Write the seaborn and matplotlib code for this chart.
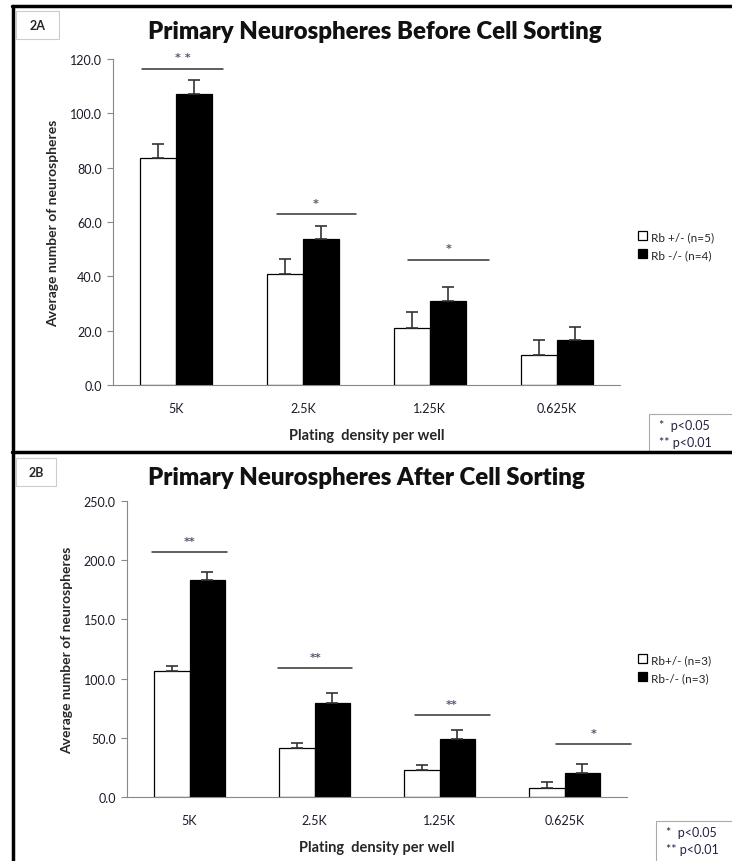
import matplotlib
matplotlib.use('Agg')
import matplotlib.pyplot as plt
import seaborn as sns
import pandas as pd
from matplotlib.lines import Line2D
from matplotlib.patches import Rectangle

# dados
density = ['5K', '2.5K', '1.25K', '0.625K']

a_het_mean = [83.5, 40.9, 21.1, 11.1]
a_het_err = [5.3, 5.5, 5.7, 5.4]
a_ko_mean = [107.2, 53.7, 31.1, 16.6]
a_ko_err = [5.1, 4.8, 4.9, 4.9]
a_groups = ['Rb +/- (n=5)', 'Rb -/- (n=4)']
a_sig = ['* *', '*', '*', '']
a_sig_y = [116.4, 62.8, 46.1, 0]
a_sig_x0 = [-0.27, -0.21, -0.17, 0]
a_sig_x1 = [0.37, 0.415, 0.47, 0]

b_het_mean = [106.7, 41.7, 22.8, 7.9]
b_het_err = [4.2, 4.2, 4.2, 4.5]
b_ko_mean = [183.3, 79.4, 49.0, 20.6]
b_ko_err = [7.0, 8.4, 7.6, 7.3]
b_groups = ['Rb+/- (n=3)', 'Rb-/- (n=3)']
b_sig = ['**', '**', '**', '*']
b_sig_y = [206.9, 109.2, 69.0, 45.0]
b_sig_x0 = [-0.30, -0.29, -0.20, -0.07]
b_sig_x1 = [0.30, 0.30, 0.40, 0.53]

sns.set_style('white')
plt.rcParams['font.family'] = ['Lato', 'DejaVu Sans']

fig = plt.figure(figsize=(7.32, 8.62), dpi=100)
W, H = 732, 862


def fx(px):
    return px / W


def fy(py):
    return 1 - py / H


def panel(rect, het_m, het_e, ko_m, ko_e, groups, sig, sig_y, sx0, sx1,
          ymax, ystep, title, tag, tag_box, title_y, leg_y, pbox):
    ax = fig.add_axes(rect)
    df = pd.DataFrame({
        'Densidade': density * 2,
        'Media': het_m + ko_m,
        'Erro': het_e + ko_e,
        'Grupo': [groups[0]] * 4 + [groups[1]] * 4,
    })
    sns.barplot(data=df, x='Densidade', y='Media', hue='Grupo', order=density,
                hue_order=groups, palette=['white', 'black'], edgecolor='black',
                linewidth=0.9, width=0.57, errorbar=None, legend=False, ax=ax)

    # barras de erro só para cima
    bars = [p for p in ax.patches if isinstance(p, Rectangle)][:8]
    for p, e in zip(bars, het_e + ko_e):
        xc = p.get_x() + p.get_width() / 2
        ax.errorbar(xc, p.get_height(), yerr=[[0], [e]], fmt='none',
                    ecolor='#333333', elinewidth=1.2, capsize=4.5, capthick=1.2)

    # linhas de significância
    for i, s in enumerate(sig):
        if not s:
            continue
        ax.plot([i + sx0[i], i + sx1[i]], [sig_y[i], sig_y[i]], color='#333333', lw=1.1,
                clip_on=False)
        ax.text(i + (sx0[i] + sx1[i]) / 2, sig_y[i] + ymax * 0.02, s, ha='center',
                va='bottom', fontsize=8, family='DejaVu Sans', fontweight='bold',
                color='#55556e', clip_on=False)

    ax.set_xlim(-0.5, 3.5)
    ax.set_ylim(0, ymax)
    ax.set_yticks([v * ystep for v in range(int(ymax / ystep) + 1)])
    ax.set_yticklabels(['%.1f' % (v * ystep) for v in range(int(ymax / ystep) + 1)],
                       fontsize=9, color='#1a1a2a')
    ax.set_xticks(range(4))
    ax.set_xticklabels(density, fontsize=9, color='#1a1a2a')
    ax.set_xticks([-0.5, 0.5, 1.5, 2.5, 3.5], minor=True)
    ax.tick_params(axis='x', which='major', length=0, pad=12)
    ax.tick_params(axis='x', which='minor', length=4, color='#888888', width=0.8)
    ax.tick_params(axis='y', length=4, color='#888888', width=0.8, left=True, pad=4)
    for side in ['top', 'right']:
        ax.spines[side].set_visible(False)
    for side in ['left', 'bottom']:
        ax.spines[side].set_color('#888888')
        ax.spines[side].set_linewidth(0.8)
    ax.set_xlabel('Plating  density per well', fontsize=10.5, fontweight='bold',
                  labelpad=10)
    ax.set_ylabel('Average number of neurospheres', fontsize=10, fontweight='bold',
                  labelpad=8)

    fig.text(fx(148), title_y, title, ha='left', va='center',
             fontsize=17.3, fontweight='heavy', color='#111111')

    # caixa com rótulo do painel
    fig.add_artist(Rectangle((fx(tag_box[0]), fy(tag_box[3])),
                             fx(tag_box[2] - tag_box[0]), (tag_box[3] - tag_box[1]) / H,
                             transform=fig.transFigure, facecolor='white',
                             edgecolor='#cccccc', lw=0.8))
    fig.text(fx((tag_box[0] + tag_box[2]) / 2), fy((tag_box[1] + tag_box[3]) / 2), tag,
             ha='center', va='center', fontsize=9, fontweight='bold')

    # legenda
    handles = [Rectangle((0, 0), 1, 1, facecolor=c, edgecolor='black', lw=0.9)
               for c in ['white', 'black']]
    fig.legend(handles, groups, loc='upper left', bbox_to_anchor=(fx(638), fy(leg_y)),
               frameon=False, fontsize=8.5, handlelength=0.8, handleheight=0.8,
               handletextpad=0.3, labelspacing=0.6, borderaxespad=0, borderpad=0)

    # caixa de valores p
    fig.add_artist(Rectangle((fx(pbox[0]), fy(pbox[3])), fx(W - pbox[0] + 5),
                             (pbox[3] - pbox[1]) / H, transform=fig.transFigure,
                             facecolor='white', edgecolor='#aaaaaa', lw=0.8))
    fig.text(fx(pbox[0] + 10), fy(pbox[1] + 11), '*  p<0.05', fontsize=9,
             va='center', color='#222244')
    fig.text(fx(pbox[0] + 10), fy(pbox[1] + 28), '** p<0.01', fontsize=9,
             va='center', color='#222244')
    return ax


panel([fx(113), fy(386), fx(620 - 113), (386 - 60) / H],
      a_het_mean, a_het_err, a_ko_mean, a_ko_err, a_groups, a_sig, a_sig_y,
      a_sig_x0, a_sig_x1, 120, 20, 'Primary Neurospheres Before Cell Sorting', '2A',
      (16, 12, 59, 40), fy(32), 232, (649, 415, W, 452))

panel([fx(127), fy(798), fx(627 - 127), (798 - 502) / H],
      b_het_mean, b_het_err, b_ko_mean, b_ko_err, b_groups, b_sig, b_sig_y,
      b_sig_x0, b_sig_x1, 250, 50, 'Primary Neurospheres After Cell Sorting', '2B',
      (16, 459, 56, 487), fy(478), 655, (656, 822, W, 870))

# moldura preta
for xs, ys in [([12, W], [7, 7]), ([13, 13], [7, H]), ([12, W], [453, 453])]:
    fig.add_artist(Line2D([fx(x) for x in xs], [fy(y) for y in ys],
                          transform=fig.transFigure, color='black', lw=2.5))

fig.savefig('out.png', dpi=100)
